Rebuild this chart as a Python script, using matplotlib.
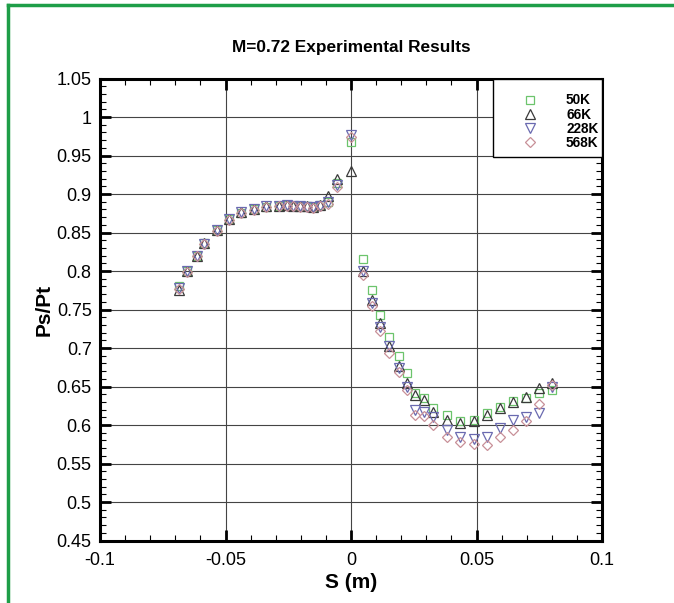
import matplotlib
matplotlib.use("Agg")
import matplotlib.pyplot as plt
from matplotlib.lines import Line2D
from matplotlib.patches import Rectangle
from matplotlib.ticker import MultipleLocator, FuncFormatter

plt.rcParams['font.family'] = ['Liberation Sans', 'DejaVu Sans']

# surface position along the profile, upper branch (S<=0) and lower branch (S>0)
s_left = [-0.0685, -0.0652, -0.0615, -0.0586, -0.0535, -0.0486, -0.0438, -0.0385,
          -0.0339, -0.0286, -0.0256, -0.0230, -0.0203, -0.0177, -0.0153, -0.0124,
          -0.0090, -0.0057, 0.0]
s_right = [0.0047, 0.0083, 0.0116, 0.0153, 0.0190, 0.0225, 0.0255, 0.0292, 0.0328,
           0.0381, 0.0434, 0.0488, 0.0540, 0.0594, 0.0645, 0.0698, 0.0747, 0.0800]

# Ps/Pt for each Reynolds number
p50_left = [0.780, 0.800, 0.820, 0.836, 0.853, 0.867, 0.875, 0.880, 0.883, 0.885,
            0.886, 0.885, 0.884, 0.884, 0.883, 0.886, 0.890, 0.914, 0.968]
p66_left = [0.775, 0.800, 0.820, 0.836, 0.853, 0.867, 0.876, 0.881, 0.884, 0.885,
            0.886, 0.885, 0.884, 0.884, 0.883, 0.886, 0.898, 0.920, 0.930]
p228_left = [0.778, 0.800, 0.820, 0.835, 0.853, 0.867, 0.876, 0.880, 0.884, 0.885,
             0.886, 0.885, 0.884, 0.883, 0.883, 0.885, 0.889, 0.912, 0.976]
p568_left = [0.777, 0.799, 0.819, 0.835, 0.852, 0.866, 0.875, 0.879, 0.883, 0.884,
             0.885, 0.884, 0.883, 0.883, 0.882, 0.884, 0.887, 0.909, 0.974]

p50_right = [0.815, 0.775, 0.743, 0.714, 0.690, 0.667, 0.641, 0.635, 0.622, 0.613,
             0.605, 0.607, 0.615, 0.624, 0.631, 0.635, 0.641, 0.645]
p66_right = [0.800, 0.762, 0.732, 0.702, 0.677, 0.655, 0.639, 0.633, 0.617, 0.607,
             0.602, 0.605, 0.613, 0.622, 0.630, 0.637, 0.648, 0.655]
p228_right = [0.800, 0.758, 0.727, 0.702, 0.674, 0.650, 0.620, 0.617, 0.610, 0.594,
              0.585, 0.582, 0.585, 0.596, 0.606, 0.611, 0.616, 0.650]
p568_right = [0.795, 0.755, 0.722, 0.693, 0.669, 0.645, 0.613, 0.612, 0.600, 0.585,
              0.578, 0.576, 0.574, 0.585, 0.593, 0.605, 0.627, 0.652]

labels = ['50K', '66K', '228K', '568K']
markers = ['s', '^', 'v', 'D']
colors = ['#6cc46c', '#3a3a3a', '#6a6ab0', '#c89098']
msizes = [6.2, 6.8, 6.8, 5.4]

series = [(p50_left, p50_right), (p66_left, p66_right),
          (p228_left, p228_right), (p568_left, p568_right)]

fig = plt.figure(figsize=(6.74, 6.03), dpi=100)
ax = fig.add_axes([0.1484, 0.1036, 0.7448, 0.7662])

for (pl, pr), lab, m, c, ms in zip(series, labels, markers, colors, msizes):
    ax.plot(s_left + s_right, pl + pr, linestyle='none', marker=m, ms=ms,
            mfc='none', mec=c, mew=0.9, label=lab)

ax.set_xlim(-0.1, 0.1)
ax.set_ylim(0.45, 1.05)
ax.xaxis.set_major_locator(MultipleLocator(0.05))
ax.xaxis.set_minor_locator(MultipleLocator(0.01))
ax.yaxis.set_major_locator(MultipleLocator(0.05))
ax.yaxis.set_minor_locator(MultipleLocator(0.01))
fmt = FuncFormatter(lambda v, pos: '%g' % round(v, 3))
ax.xaxis.set_major_formatter(fmt)
ax.yaxis.set_major_formatter(fmt)

ax.grid(True, which='major', color='#444444', lw=0.8)
ax.tick_params(which='both', direction='in', top=True, right=True, labelsize=13)
ax.tick_params(which='major', length=8, width=2)
ax.tick_params(which='minor', length=4.5, width=0.8)
ax.tick_params(axis='x', which='major', pad=8)
ax.tick_params(axis='y', which='major', pad=6)
for sp in ax.spines.values():
    sp.set_linewidth(2.2)

ax.set_xlabel('S (m)', fontsize=15, fontweight='bold', labelpad=3)
ax.set_ylabel('Ps/Pt', fontsize=15, fontweight='bold', labelpad=2)
fig.text(0.5215, 0.921, 'M=0.72 Experimental Results', ha='center', va='center',
         fontsize=12.4, fontweight='bold')

# legend box in the top right corner, entries placed inside it
ax.add_patch(Rectangle((0.783, 0.830), 0.217, 0.170, transform=ax.transAxes,
                       facecolor='white', edgecolor='black', lw=1.0, zorder=4.5))
leg = ax.legend(loc='upper right', bbox_to_anchor=(0.993, 0.968), frameon=False,
                borderpad=0, borderaxespad=0, handletextpad=1.65,
                labelspacing=0.02, handlelength=2.0,
                prop={'weight': 'bold', 'size': 9.8})
leg.set_zorder(5)

# green frame around the panel
fig.add_artist(Line2D([8 / 674, 1.0], [1 - 5 / 603, 1 - 5 / 603],
                      transform=fig.transFigure, color='#1e9e48', lw=2.5))
fig.add_artist(Line2D([8 / 674, 8 / 674], [0.0, 1 - 5 / 603],
                      transform=fig.transFigure, color='#1e9e48', lw=2.5))

fig.savefig('out.png', dpi=100)
